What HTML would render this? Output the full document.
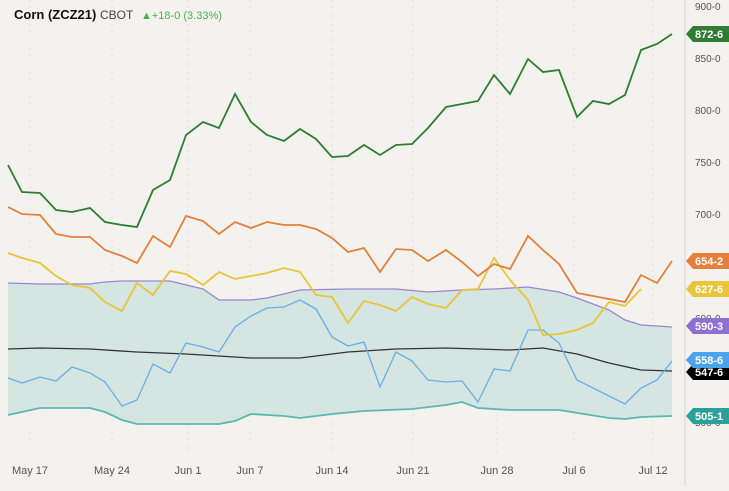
<!DOCTYPE html><html><head><style>body{margin:0;background:#f4f2ef;font-family:"Liberation Sans",sans-serif}</style></head><body>
<svg width="729" height="486" xmlns="http://www.w3.org/2000/svg" font-family="Liberation Sans, sans-serif">
<rect width="729" height="486" fill="#f4f2ef"/>
<g stroke="#e2dfda" stroke-dasharray="2,4">
<line x1="30" y1="0" x2="30" y2="455"/><line x1="112" y1="0" x2="112" y2="455"/><line x1="188" y1="0" x2="188" y2="455"/><line x1="250" y1="0" x2="250" y2="455"/><line x1="332" y1="0" x2="332" y2="455"/><line x1="413" y1="0" x2="413" y2="455"/><line x1="497" y1="0" x2="497" y2="455"/><line x1="574" y1="0" x2="574" y2="455"/><line x1="653" y1="0" x2="653" y2="455"/>
</g>
<line x1="685" y1="0" x2="685" y2="486" stroke="#d8d5d0"/>
<polygon fill="#d5e5e1" points="8,283 40,284 90,284 105,282 122,281 170,281 203,289 219,300 251,300 267,298 300,290 348,289 396,289 428,292 462,290 494,289 528,287 559,292 577,298 609,310 625,320 641,325 672,327 672,416 641,417 625,419 609,418 559,410 510,410 478,408 462,402 446,405 412,409 364,411 332,414 300,418 284,416 251,414 235,421 219,424 170,424 137,424 122,420 105,412 90,408 40,408 8,415"/>
<g fill="none" stroke-width="1.3">
<polyline stroke="#9a86d0" points="8,283 40,284 90,284 105,282 122,281 170,281 203,289 219,300 251,300 267,298 300,290 348,289 396,289 428,292 462,290 494,289 528,287 559,292 577,298 609,310 625,320 641,325 672,327"/>
<polyline stroke="#5cb8ae" stroke-width="1.8" points="8,415 40,408 90,408 105,412 122,420 137,424 170,424 219,424 235,421 251,414 284,416 300,418 332,414 364,411 412,409 446,405 462,402 478,408 510,410 559,410 609,418 625,419 641,417 672,416"/>
<polyline stroke="#333" points="8,349 40,348 90,349 137,352 186,354 251,358 300,358 348,352 396,349 446,348 478,349 510,350 543,348 577,354 609,363 641,370 672,371"/>
<polyline stroke="#6aaee8" points="8,378 22,383 40,377 56,381 72,367 90,373 105,382 122,406 137,400 153,364 170,373 186,343 203,347 219,352 235,327 251,316 267,308 284,307 300,300 316,309 332,337 348,346 364,342 380,387 396,352 412,361 428,380 446,382 462,381 478,402 494,369 510,371 528,330 543,330 559,343 577,380 593,388 609,396 625,404 641,388 657,380 672,361"/>
<polyline stroke="#e8c53a" stroke-width="1.8" points="8,253 22,258 40,263 56,276 72,285 90,288 105,302 122,311 137,283 153,295 170,271 186,274 203,285 219,272 235,279 251,276 267,273 284,268 300,272 316,295 332,297 348,323 364,301 380,305 396,311 412,297 428,304 446,308 462,290 478,289 494,258 510,280 528,300 543,335 559,334 577,330 593,323 609,302 625,306 641,289"/>
<polyline stroke="#e67f3a" stroke-width="1.8" points="8,207 22,214 40,215 56,234 72,237 90,237 105,250 122,256 137,263 153,236 170,247 186,216 203,221 219,234 235,222 251,228 267,222 284,225 300,225 316,229 332,238 348,252 364,248 380,272 396,249 412,250 428,261 446,250 462,262 478,276 494,264 510,269 528,236 543,250 559,264 577,293 593,296 609,299 625,302 641,275 657,283 672,261"/>
<polyline stroke="#2e7d32" stroke-width="1.8" points="8,165 22,192 40,193 56,210 72,212 90,208 105,222 122,225 137,227 153,190 170,180 186,135 203,122 219,128 235,94 251,122 267,135 284,141 300,129 316,139 332,157 348,156 364,145 380,155 396,145 412,144 428,128 446,107 462,104 478,101 494,75 510,94 528,59 543,72 559,70 577,117 593,101 609,104 625,95 641,50 657,44 672,34"/>
</g>
<g font-size="10" fill="#555">
<text x="695" y="10">900-0</text><text x="695" y="62">850-0</text><text x="695" y="114">800-0</text><text x="695" y="166">750-0</text><text x="695" y="218">700-0</text><text x="695" y="322">600-0</text><text x="695" y="374">550-0</text><text x="695" y="426">500-0</text>
</g>
<g font-size="11" fill="#555" text-anchor="middle">
<text x="533" y="473" text-anchor="start" x-dummy="">&#8203;</text>
<text x="30" y="474">May 17</text><text x="112" y="474">May 24</text><text x="188" y="474">Jun 1</text><text x="250" y="474">Jun 7</text><text x="332" y="474">Jun 14</text><text x="413" y="474">Jun 21</text><text x="497" y="474">Jun 28</text><text x="574" y="474">Jul 6</text><text x="653" y="474">Jul 12</text>
</g>
<g font-size="11" font-weight="bold" fill="#fff">
<path d="M686,34 l7,-8 h36 v16 h-36z" fill="#2e7d32"/><text x="695" y="38">872-6</text>
<path d="M686,261 l7,-8 h36 v16 h-36z" fill="#e67f3a"/><text x="695" y="265">654-2</text>
<path d="M686,289 l7,-8 h36 v16 h-36z" fill="#e8c53a"/><text x="695" y="293">627-6</text>
<path d="M686,372 l7,-8 h36 v16 h-36z" fill="#000"/><text x="695" y="376">547-6</text>
<path d="M686,326 l7,-8 h36 v16 h-36z" fill="#8d6fd6"/><text x="695" y="330">590-3</text>
<path d="M686,360 l7,-8 h36 v16 h-36z" fill="#4aa3ee"/><text x="695" y="364">558-6</text>
<path d="M686,416 l7,-8 h36 v16 h-36z" fill="#2aa198"/><text x="695" y="420">505-1</text>
</g>
<text x="14" y="19" font-size="13" font-weight="bold" fill="#111">Corn (ZCZ21)</text>
<text x="100" y="19" font-size="12" fill="#444">CBOT</text>
<text x="141" y="19" font-size="11" fill="#4caf50">▲+18-0 (3.33%)</text>
</svg></body></html>
